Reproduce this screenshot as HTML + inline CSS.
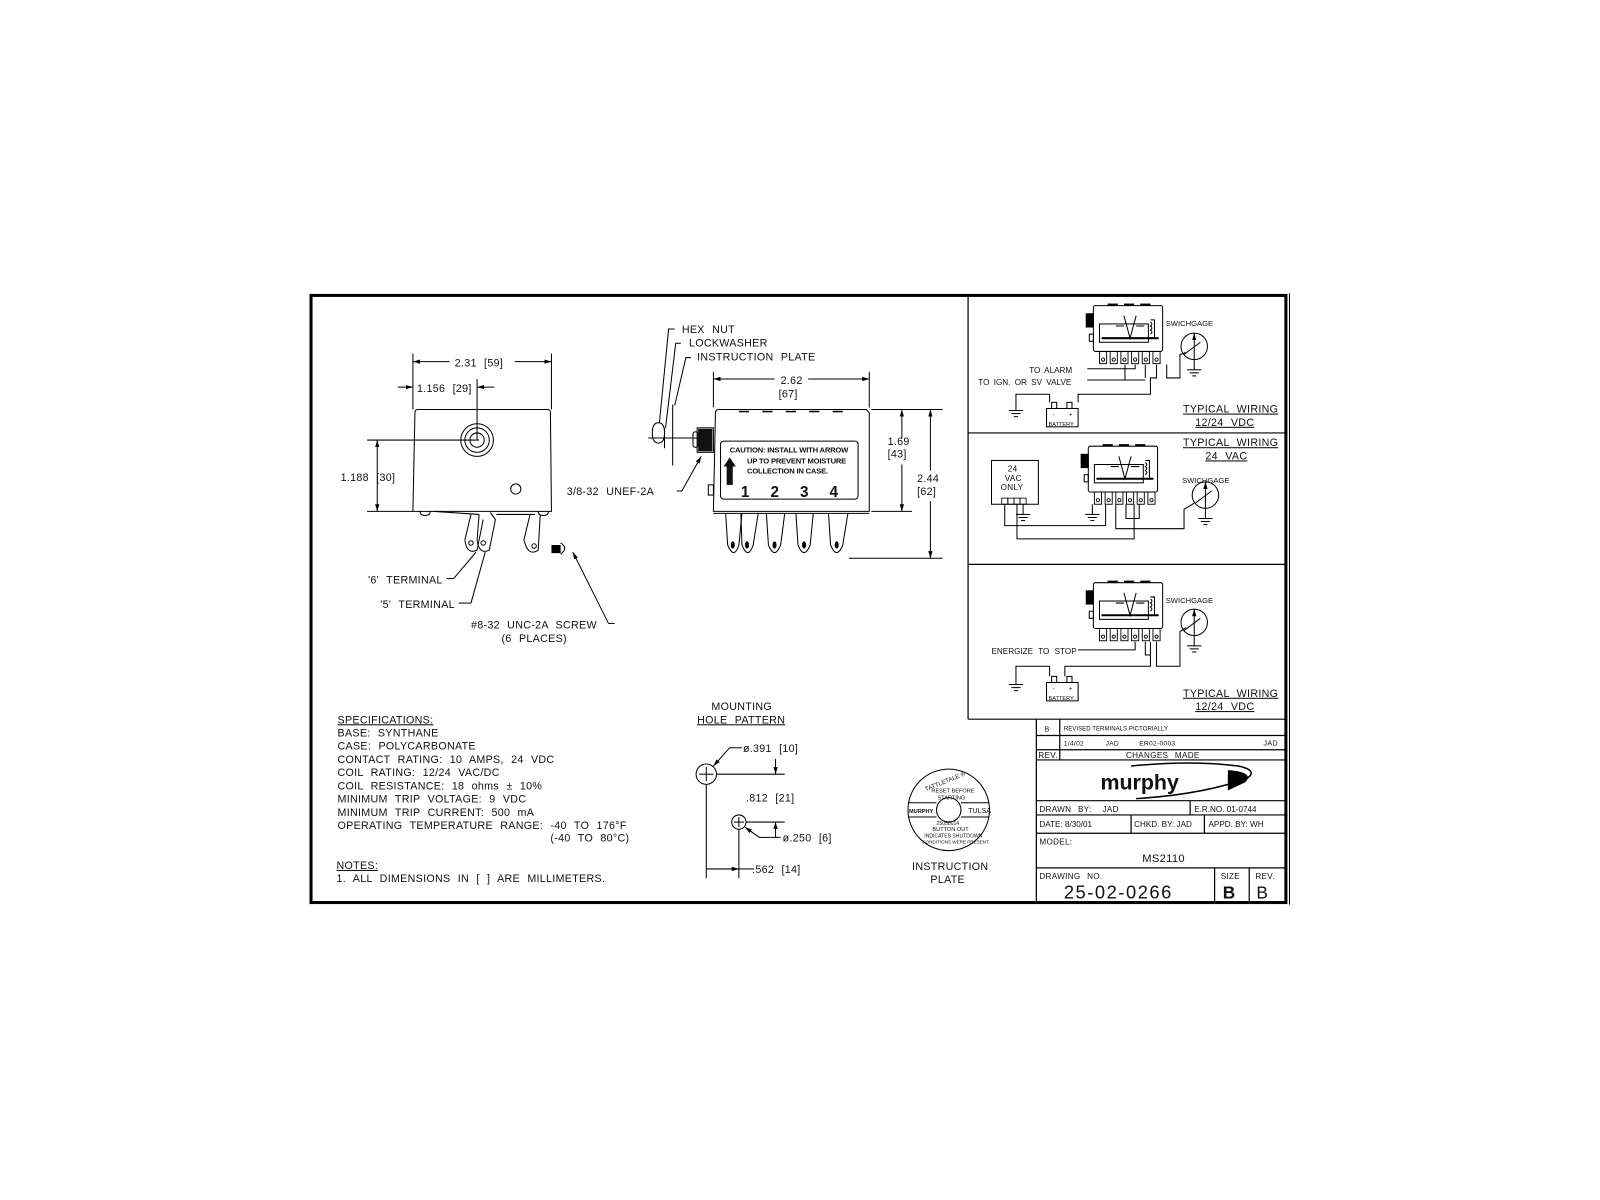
<!DOCTYPE html>
<html><head><meta charset="utf-8"><style>
html,body{margin:0;padding:0;background:#fff;width:1600px;height:1200px;overflow:hidden}
svg{display:block}
text{font-family:"Liberation Sans",sans-serif;fill:#111;word-spacing:4px;letter-spacing:0.3px}
text.n{word-spacing:0;letter-spacing:0}
text.c{word-spacing:0;letter-spacing:-0.2px}
</style></head><body>
<svg width="1600" height="1200" viewBox="0 0 1570 1178" xmlns="http://www.w3.org/2000/svg">
<defs>
<marker id="ar" viewBox="0 0 10 10" refX="10" refY="5" markerWidth="7" markerHeight="7" orient="auto-start-reverse"><path d="M0,2 L10,5 L0,8 z" fill="#000"/></marker>
<g id="gnd"><line x1="0" y1="0" x2="0" y2="10" stroke="#000"/><line x1="-7" y1="10" x2="7" y2="10" stroke="#000"/><line x1="-4.5" y1="13" x2="4.5" y2="13" stroke="#000"/><line x1="-2" y1="16" x2="2" y2="16" stroke="#000"/></g>
<g id="relay" fill="none" stroke="#000" stroke-width="1">
<rect x="0" y="0" width="68" height="45" rx="2"/>
<rect x="-7" y="8" width="7" height="13" fill="#000"/>
<rect x="-4" y="28" width="4" height="7"/>
<line x1="14" y1="-1" x2="24" y2="-1" stroke-width="2"/><line x1="30" y1="-1" x2="40" y2="-1" stroke-width="2"/><line x1="46" y1="-1" x2="56" y2="-1" stroke-width="2"/>
<rect x="6" y="18" width="48" height="18"/>
<line x1="8" y1="32" x2="64" y2="32" stroke-width="2"/>
<path d="M30,10 L36,32 L42,10"/><path d="M22,20 L30,20 M42,20 L50,20 M56,14 L60,14 L60,32"/>
<path d="M56,16 q3,2 0,4 q3,2 0,4 q3,2 0,4"/>
<g stroke-width="0.9">
<rect x="6" y="45" width="7" height="12"/><rect x="16.5" y="45" width="7" height="12"/><rect x="27" y="45" width="7" height="12"/><rect x="37.5" y="45" width="7" height="12"/><rect x="48" y="45" width="7" height="12"/><rect x="58.5" y="45" width="7" height="12"/>
<circle cx="9.5" cy="53" r="1.6"/><circle cx="20" cy="53" r="1.6"/><circle cx="30.5" cy="53" r="1.6"/><circle cx="41" cy="53" r="1.6"/><circle cx="51.5" cy="53" r="1.6"/><circle cx="62" cy="53" r="1.6"/>
</g></g>
<g id="gauge" fill="none" stroke="#000"><circle cx="0" cy="0" r="13"/><line x1="0" y1="13" x2="0" y2="-13" marker-end="url(#ar)"/><line x1="-10" y1="8" x2="6" y2="-4"/></g>
<g id="batt" fill="none" stroke="#000"><rect x="0" y="0" width="31" height="18"/><rect x="5" y="-6" width="5" height="6"/><rect x="20" y="-6" width="5" height="6"/></g>
</defs>

<rect x="305" y="290" width="957" height="596" fill="none" stroke="#000" stroke-width="3"/>
<line x1="1265.5" y1="288" x2="1265.5" y2="888" stroke="#000" stroke-width="1"/>
<g stroke="#000" stroke-width="1.2" fill="none">
<line x1="950" y1="290" x2="950" y2="706"/>
<line x1="950" y1="425" x2="1262" y2="425"/>
<line x1="950" y1="554" x2="1262" y2="554"/>
<line x1="950" y1="706" x2="1262" y2="706"/>
<line x1="1017" y1="706" x2="1017" y2="886"/>
<line x1="1017" y1="722" x2="1262" y2="722"/>
<line x1="1017" y1="736" x2="1262" y2="736"/>
<line x1="1017" y1="746" x2="1262" y2="746"/>
<line x1="1040" y1="706" x2="1040" y2="746"/>
<line x1="1017" y1="786" x2="1262" y2="786"/>
<line x1="1017" y1="800" x2="1262" y2="800"/>
<line x1="1168" y1="786" x2="1168" y2="800"/>
<line x1="1017" y1="818" x2="1262" y2="818"/>
<line x1="1110" y1="800" x2="1110" y2="818"/>
<line x1="1182" y1="800" x2="1182" y2="818"/>
<line x1="1017" y1="852" x2="1262" y2="852"/>
<line x1="1192" y1="852" x2="1192" y2="886"/>
<line x1="1226" y1="852" x2="1226" y2="886"/>
</g>
<g font-size="7">
<text x="1025" y="718">B</text>
<text class="n" x="1044" y="717" font-size="6">REVISED TERMINALS PICTORIALLY</text>
<text x="1044" y="732" font-size="6.5">1/4/02</text><text x="1085" y="732" font-size="6.5">JAD</text><text x="1118" y="732" font-size="6.5">ER02-0003</text><text x="1240" y="732" font-size="7">JAD</text>
<text x="1019" y="744" font-size="8">REV.</text><text x="1105" y="744" font-size="8">CHANGES MADE</text>
<text x="1020" y="797" font-size="8">DRAWN BY:</text><text x="1082" y="797" font-size="8">JAD</text><text class="n" x="1172" y="797" font-size="8">E.R.NO. 01-0744</text>
<text class="n" x="1020" y="812" font-size="8">DATE:  8/30/01</text><text class="n" x="1113" y="812" font-size="8">CHKD. BY: JAD</text><text class="n" x="1186" y="812" font-size="8">APPD. BY: WH</text>
<text x="1020" y="829" font-size="8">MODEL:</text>
<text x="1121" y="846" font-size="11">MS2110</text>
<text x="1020" y="863" font-size="8">DRAWING NO.</text>
<text x="1044" y="882" font-size="18" style="letter-spacing:1.5px">25-02-0266</text>
<text x="1198" y="863" font-size="8">SIZE</text><text x="1200" y="882" font-size="17" font-weight="bold">B</text>
<text x="1232" y="863" font-size="8">REV.</text><text x="1233" y="882" font-size="17">B</text>
</g>
<path d="M1115,784 Q1180,780 1224,764 Q1235,756 1215,752 Q1170,746 1110,752" fill="none" stroke="#000" stroke-width="1.5"/>
<path d="M1205,756 Q1232,758 1222,768 L1205,776 Z" fill="#000"/>
<text class="n" x="1080" y="775" font-size="21" font-weight="bold">murphy</text>

<!-- wiring panel 1 -->
<use href="#relay" x="1073" y="300"/>
<use href="#gauge" x="1172" y="340"/>
<use href="#gnd" x="1172" y="353"/>
<text class="n" x="1144" y="320" font-size="7.5">SWICHGAGE</text>
<g stroke="#000" fill="none">
<polyline points="1067,362 1114,362 1114,358"/>
<polyline points="1067,373 1124,373"/>
<polyline points="1124,358 1124,371"/>
<polyline points="1135,358 1135,371 1129,371 1129,387 1058,387 1058,395"/>
<polyline points="1145,358 1145,371 1158,371 1158,348 1164,346"/>
<polyline points="1104,358 1104,373"/>
<polyline points="997,395 997,387 1030,387 1030,395"/>
</g>
<use href="#gnd" x="997" y="393"/>
<use href="#batt" x="1027" y="401"/>
<text x="1033" y="409" font-size="6">-</text><text x="1049" y="409" font-size="6">+</text><text class="n" x="1029" y="418" font-size="5.5">BATTERY</text>
<text class="n" x="1010" y="366" font-size="8" style="word-spacing:2px">TO ALARM</text>
<text class="n" x="960" y="378" font-size="8" style="word-spacing:2px">TO IGN. OR SV VALVE</text>
<text x="1161" y="405" font-size="10.5" text-decoration="underline">TYPICAL WIRING</text>
<text x="1173" y="418" font-size="10.5" text-decoration="underline">12/24 VDC</text>

<!-- panel 2 -->
<text x="1161" y="438" font-size="10.5" text-decoration="underline">TYPICAL WIRING</text>
<text x="1183" y="451" font-size="10.5" text-decoration="underline">24 VAC</text>
<use href="#relay" x="1068" y="438"/>
<text class="n" x="1160" y="474" font-size="7.5">SWICHGAGE</text>
<use href="#gauge" x="1183" y="486"/>
<use href="#gnd" x="1183" y="499"/>
<rect x="973" y="452" width="46" height="43" fill="none" stroke="#000"/>
<text x="989" y="463" font-size="8">24</text><text x="986" y="472" font-size="8">VAC</text><text x="982" y="481" font-size="8">ONLY</text>
<g fill="none" stroke="#000" stroke-width="0.8"><rect x="983" y="489" width="6" height="6"/><rect x="989" y="489" width="6" height="6"/><rect x="995" y="489" width="6" height="6"/><rect x="1001" y="489" width="6" height="6"/></g>
<use href="#gnd" x="1004" y="495"/>
<use href="#gnd" x="1072" y="495"/>
<g stroke="#000" fill="none">
<polyline points="986,495 986,516 1085,516 1085,495"/>
<polyline points="998,495 998,529 1113,529 1113,495"/>
<polyline points="1095,495 1095,519 1107,519 1162,519 1162,500 1172,494"/>
<polyline points="1105,495 1105,509 1118,509 1118,495"/>
</g>

<!-- panel 3 -->
<use href="#relay" x="1073" y="572"/>
<text class="n" x="1144" y="592" font-size="7.5">SWICHGAGE</text>
<use href="#gauge" x="1172" y="611"/>
<use href="#gnd" x="1172" y="624"/>
<g stroke="#000" fill="none">
<polyline points="1058,638 1114,638 1114,630"/>
<polyline points="1124,630 1124,643 1129,643 1129,630"/>
<polyline points="1129,643 1129,654 1045,654 1045,664"/>
<polyline points="1135,630 1135,654 1158,654 1158,620 1164,616"/>
<polyline points="997,664 997,654 1030,654 1030,664"/>
</g>
<use href="#gnd" x="997" y="662"/>
<use href="#batt" x="1027" y="670"/>
<text x="1033" y="678" font-size="6">-</text><text x="1049" y="678" font-size="6">+</text><text class="n" x="1029" y="687" font-size="5.5">BATTERY</text>
<text class="n" x="973" y="642" font-size="8" style="word-spacing:3px">ENERGIZE TO STOP</text>
<text x="1161" y="684" font-size="10.5" text-decoration="underline">TYPICAL WIRING</text>
<text x="1173" y="697" font-size="10.5" text-decoration="underline">12/24 VDC</text>

<!-- front view -->
<g stroke="#000" fill="none" stroke-width="1">
<line x1="405" y1="347" x2="405" y2="402"/><line x1="541" y1="347" x2="541" y2="402"/>
<line x1="405" y1="355" x2="441" y2="355" marker-start="url(#ar)"/><line x1="505" y1="355" x2="541" y2="355" marker-end="url(#ar)"/>
<line x1="468" y1="372" x2="468" y2="432"/>
<line x1="390" y1="380" x2="405" y2="380" marker-end="url(#ar)"/><line x1="485" y1="380" x2="468" y2="380" marker-end="url(#ar)"/>
<path d="M405,502 L407,405 Q407,402 410,402 L537,402 Q540,402 540,405 L541,502 Z"/>
<line x1="360" y1="432" x2="470" y2="432"/><line x1="360" y1="502" x2="405" y2="502"/>
<line x1="370" y1="432" x2="370" y2="502" marker-start="url(#ar)" marker-end="url(#ar)"/>
<circle cx="468" cy="432" r="16"/><circle cx="468" cy="432" r="12"/><circle cx="468" cy="432" r="7"/>
<circle cx="506" cy="480" r="5"/>
<path d="M412,502 q0,4 5,4 q5,0 5,-4 M425,502 L470,505 M487,505 L525,505 M528,502 q0,4 5,4 q5,0 5,-4"/>
<path d="M462,505 L456,530 Q458,545 468,540 L474,510"/><path d="M470,505 L468,530 Q470,545 480,540 L486,510 L481,503"/>
<path d="M520,505 L514,530 Q518,547 528,540 L530,505"/>
<circle cx="462" cy="533" r="2.2"/><circle cx="474" cy="533" r="2.2"/><circle cx="524" cy="536" r="2.2"/>
<line x1="467" y1="542" x2="445" y2="568"/><line x1="445" y1="568" x2="438" y2="568"/>
<line x1="476" y1="542" x2="462" y2="592"/><line x1="462" y1="592" x2="450" y2="592"/>
<line x1="597" y1="612" x2="562" y2="542" marker-end="url(#ar)"/><line x1="597" y1="612" x2="603" y2="612"/>
</g>
<rect x="541" y="535" width="9" height="8" fill="#000"/><path d="M550,533 q8,5 0,11" fill="none" stroke="#000"/>
<g font-size="10.5">
<text x="446" y="360">2.31 [59]</text>
<text x="409" y="385">1.156 [29]</text>
<text x="334" y="472">1.188 [30]</text>
<text x="361" y="573">'6' TERMINAL</text>
<text x="373" y="597">'5' TERMINAL</text>
<text x="462" y="617">#8-32 UNC-2A SCREW</text>
<text x="492" y="630">(6 PLACES)</text>
</g>

<!-- side view -->
<g stroke="#000" fill="none" stroke-width="1">
<path d="M700,502 L702,405 Q702,402 706,402 L850,402 L853,405 L853,502 Z"/>
<line x1="700" y1="504" x2="853" y2="504"/>
<line x1="725" y1="404" x2="735" y2="404" stroke-width="1.5"/><line x1="748" y1="404" x2="758" y2="404" stroke-width="1.5"/><line x1="771" y1="404" x2="781" y2="404" stroke-width="1.5"/><line x1="794" y1="404" x2="804" y2="404" stroke-width="1.5"/><line x1="817" y1="404" x2="827" y2="404" stroke-width="1.5"/>
<rect x="707" y="433" width="135" height="57" rx="3"/>
<rect x="684" y="420" width="16" height="24" stroke-width="1"/><rect x="680" y="424" width="5" height="15" rx="2"/>
<rect x="695" y="476" width="5" height="10"/>
<line x1="700" y1="365" x2="700" y2="400"/><line x1="853" y1="365" x2="853" y2="400"/>
<line x1="700" y1="372" x2="760" y2="372" marker-start="url(#ar)"/><line x1="793" y1="372" x2="853" y2="372" marker-end="url(#ar)"/>
<line x1="855" y1="402" x2="925" y2="402"/><line x1="855" y1="502" x2="895" y2="502"/><line x1="833" y1="548" x2="925" y2="548"/>
<line x1="885" y1="402" x2="885" y2="430" marker-start="url(#ar)"/><line x1="885" y1="456" x2="885" y2="502" marker-end="url(#ar)"/>
<line x1="913" y1="402" x2="913" y2="462" marker-start="url(#ar)"/><line x1="913" y1="492" x2="913" y2="548" marker-end="url(#ar)"/>
<path d="M646,415 q-6,0 -6,10 q0,10 6,10 q6,0 6,-10 q0,-10 -6,-10z"/>
<line x1="652" y1="420" x2="652" y2="440"/><line x1="660" y1="397" x2="660" y2="457"/>
<line x1="636" y1="430" x2="690" y2="430"/>
<path d="M662,323 L656,323 L647,415 M668,337 L663,337 L653,420 M678,351 L673,351 L662,398"/>
<path d="M664,482 L669,482 L688,448" marker-end="url(#ar)"/>
</g>
<g fill="#111">
<rect x="685" y="421" width="14" height="22"/>
<path d="M713,476 L713,458 L710,458 L716,449 L722,458 L719,458 L719,476 Z"/>
</g>
<g stroke="#000" fill="none">
<path d="M712,504 L714,535 Q720,550 725,535 L728,504"/><path d="M727,504 L728,535 Q734,550 739,535 L744,504"/>
<path d="M752,504 L754,535 Q760,550 766,535 L770,504"/><path d="M781,504 L783,535 Q789,550 795,535 L798,504"/><path d="M813,504 L815,535 Q821,550 827,535 L832,504"/>
</g>
<g fill="#000"><ellipse cx="719" cy="535" rx="2" ry="3.5"/><ellipse cx="733" cy="535" rx="2" ry="3.5"/><ellipse cx="760" cy="535" rx="2" ry="3.5"/><ellipse cx="789" cy="535" rx="2" ry="3.5"/><ellipse cx="821" cy="535" rx="2" ry="3.5"/></g>
<g font-size="7.5" font-weight="bold"><text class="c" x="716" y="444">CAUTION: INSTALL WITH ARROW</text><text class="c" x="733" y="455">UP TO PREVENT MOISTURE</text><text class="c" x="733" y="465">COLLECTION IN CASE.</text></g>
<g font-size="15" font-weight="bold"><text x="727" y="488">1</text><text x="756" y="488">2</text><text x="785" y="488">3</text><text x="814" y="488">4</text></g>
<g font-size="10.5">
<text x="669" y="327">HEX NUT</text>
<text x="676" y="340">LOCKWASHER</text>
<text x="684" y="354">INSTRUCTION PLATE</text>
<text x="766" y="377">2.62</text><text x="764" y="390">[67]</text>
<text x="871" y="437">1.69</text><text x="871" y="449">[43]</text>
<text x="900" y="473">2.44</text><text x="900" y="486">[62]</text>
<text x="556" y="486">3/8-32 UNEF-2A</text>
</g>

<!-- mounting pattern -->
<g stroke="#000" fill="none">
<circle cx="693" cy="760" r="10"/><line x1="686" y1="760" x2="700" y2="760"/><line x1="693" y1="753" x2="693" y2="767"/>
<circle cx="725" cy="807" r="7"/><line x1="720" y1="807" x2="730" y2="807"/><line x1="725" y1="802" x2="725" y2="812"/>
<line x1="703" y1="760" x2="770" y2="760"/><line x1="732" y1="807" x2="770" y2="807"/>
<line x1="761" y1="745" x2="761" y2="760" marker-end="url(#ar)"/><line x1="761" y1="822" x2="761" y2="807" marker-end="url(#ar)"/>
<line x1="693" y1="770" x2="693" y2="862"/><line x1="725" y1="814" x2="725" y2="862"/>
<line x1="693" y1="853" x2="725" y2="853" marker-end="url(#ar)"/><line x1="740" y1="853" x2="725" y2="853"/>
<path d="M728,734 L716,734 L700,752" marker-end="url(#ar)"/>
<path d="M766,822 L745,822 L731,812" marker-end="url(#ar)"/>
</g>
<g font-size="10.5">
<text x="698" y="697">MOUNTING</text>
<text x="684" y="710" text-decoration="underline">HOLE PATTERN</text>
<text x="729" y="738">ø.391 [10]</text>
<text x="732" y="787">.812 [21]</text>
<text x="768" y="826">ø.250 [6]</text>
<text x="738" y="857">.562 [14]</text>
</g>

<!-- instruction plate -->
<g stroke="#000" fill="none">
<circle cx="931" cy="795" r="40"/><circle cx="931" cy="795" r="12"/>
<line x1="891" y1="788" x2="919" y2="788"/><line x1="891" y1="802" x2="919" y2="802"/>
<line x1="943" y1="788" x2="971" y2="788"/><line x1="943" y1="802" x2="971" y2="802"/>
</g>
<text class="n" x="892" y="798" font-size="5.5" font-weight="bold">MURPHY</text>
<text class="n" x="950" y="798" font-size="7">TULSA</text>
<text class="n" x="907" y="772" font-size="6" transform="rotate(-22 920 770)">TATTLETALE ®</text>
<text class="n" x="914" y="778" font-size="5.5">RESET BEFORE</text><text class="n" x="920" y="785" font-size="5.5">STARTING</text>
<text class="n" x="919" y="810" font-size="5">25050014</text>
<text class="n" x="915" y="816" font-size="5.5">BUTTON OUT</text><text class="n" x="907" y="822" font-size="5">INDICATES SHUTDOWN</text><text class="n" x="905" y="828" font-size="4.5">CONDITIONS WERE PRESENT</text>
<text x="895" y="854" font-size="10.5">INSTRUCTION</text>
<text x="913" y="867" font-size="10.5">PLATE</text>

<!-- specs -->
<g font-size="10.5">
<text x="331" y="710" text-decoration="underline">SPECIFICATIONS:</text>
<text x="331" y="723">BASE: SYNTHANE</text>
<text x="331" y="736">CASE: POLYCARBONATE</text>
<text x="331" y="749">CONTACT RATING: 10 AMPS, 24 VDC</text>
<text x="331" y="762">COIL RATING: 12/24 VAC/DC</text>
<text x="331" y="775">COIL RESISTANCE: 18 ohms ± 10%</text>
<text x="331" y="788">MINIMUM TRIP VOLTAGE: 9 VDC</text>
<text x="331" y="801">MINIMUM TRIP CURRENT: 500 mA</text>
<text x="331" y="814">OPERATING TEMPERATURE RANGE:  -40 TO 176°F</text>
<text x="540" y="826">(-40 TO 80°C)</text>
<text x="330" y="853" text-decoration="underline">NOTES:</text>
<text x="330" y="866">1. ALL DIMENSIONS IN [ ] ARE MILLIMETERS.</text>
</g>
</svg>
</body></html>
